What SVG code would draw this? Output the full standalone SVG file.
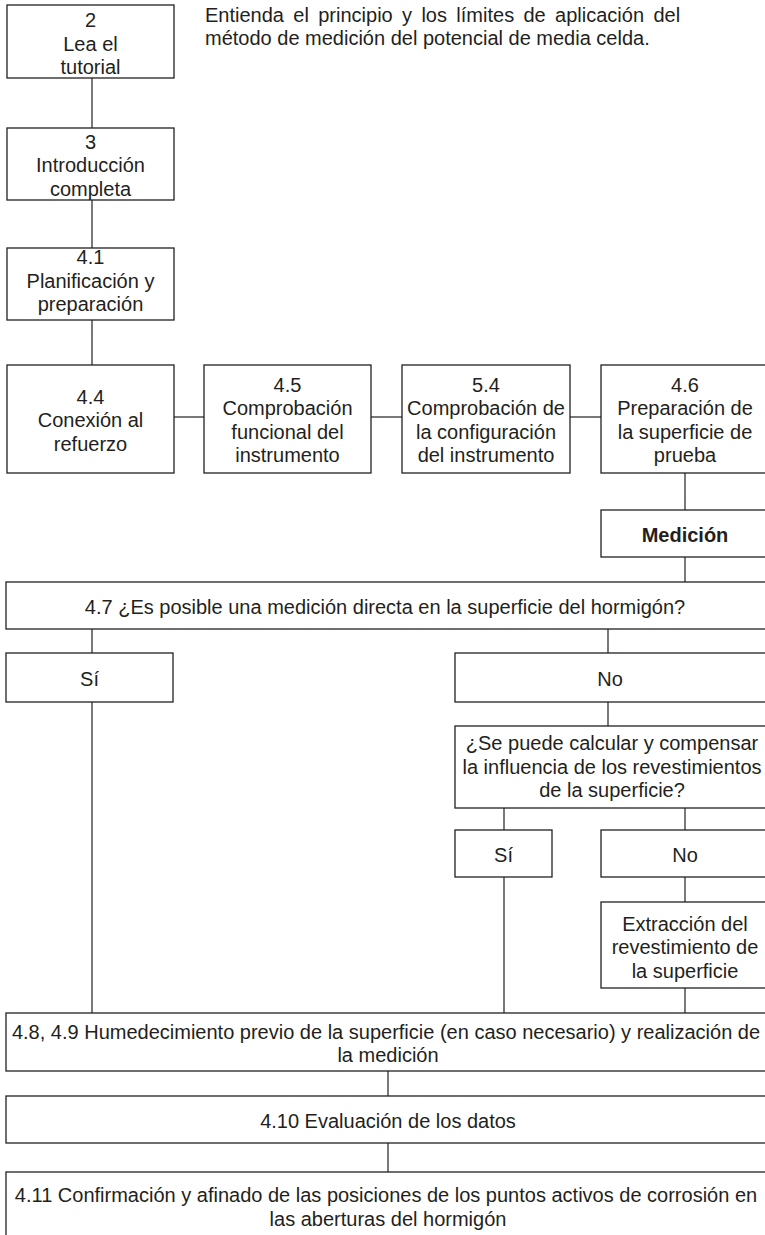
<svg xmlns="http://www.w3.org/2000/svg" width="765" height="1235" viewBox="0 0 765 1235">
<style>
.b{fill:#fff;stroke:#231f20;stroke-width:1.3}
.c{fill:none;stroke:#231f20;stroke-width:1.2}
text{font-family:"Liberation Sans",Arial,Helvetica,sans-serif;font-size:20px;fill:#231f20;text-anchor:middle}
.h{text-anchor:start;word-spacing:3.8px}
.h2{text-anchor:start}
.bold{font-weight:bold}
</style>
<rect width="765" height="1235" fill="#fff"/>
<g id="connectors">
<line class="c" x1="92" y1="78" x2="92" y2="128"/>
<line class="c" x1="92" y1="200" x2="92" y2="248"/>
<line class="c" x1="92" y1="320" x2="92" y2="365"/>
<line class="c" x1="174" y1="417" x2="204" y2="417"/>
<line class="c" x1="371" y1="417" x2="402" y2="417"/>
<line class="c" x1="570" y1="417" x2="601" y2="417"/>
<line class="c" x1="685" y1="473" x2="685" y2="510"/>
<line class="c" x1="685" y1="557" x2="685" y2="582"/>
<line class="c" x1="92" y1="629" x2="92" y2="653"/>
<line class="c" x1="608" y1="629" x2="608" y2="653"/>
<line class="c" x1="92" y1="702" x2="92" y2="1013"/>
<line class="c" x1="608" y1="702" x2="608" y2="726"/>
<line class="c" x1="504" y1="808" x2="504" y2="830"/>
<line class="c" x1="685" y1="808" x2="685" y2="830"/>
<line class="c" x1="504" y1="877" x2="504" y2="1013"/>
<line class="c" x1="685" y1="877" x2="685" y2="902"/>
<line class="c" x1="685" y1="988" x2="685" y2="1013"/>
<line class="c" x1="388" y1="1071" x2="388" y2="1096"/>
<line class="c" x1="388" y1="1143" x2="388" y2="1172"/>
</g>
<g id="note">
<text class="h" x="205" y="21.5">Entienda el principio y los límites de aplicación del</text>
<text class="h2" x="205" y="45">método de medición del potencial de media celda.</text>
</g>
<g id="n2">
<rect class="b" x="7" y="5" width="167" height="73"/>
<text x="90.5" y="27">2</text>
<text x="90.5" y="50.5">Lea el</text>
<text x="90.5" y="74">tutorial</text>
</g>
<g id="n3">
<rect class="b" x="7" y="128" width="167" height="72"/>
<text x="90.5" y="148.5">3</text>
<text x="90.5" y="172">Introducción</text>
<text x="90.5" y="195.5">completa</text>
</g>
<g id="n41">
<rect class="b" x="7" y="248" width="167" height="72"/>
<text x="90.5" y="264">4.1</text>
<text x="90.5" y="287.5">Planificación y</text>
<text x="90.5" y="311">preparación</text>
</g>
<g id="n44">
<rect class="b" x="7" y="365" width="167" height="108"/>
<text x="90.5" y="403.5">4.4</text>
<text x="90.5" y="427">Conexión al</text>
<text x="90.5" y="450.5">refuerzo</text>
</g>
<g id="n45">
<rect class="b" x="204" y="365" width="167" height="108"/>
<text x="287.5" y="391.75">4.5</text>
<text x="287.5" y="415.25">Comprobación</text>
<text x="287.5" y="438.75">funcional del</text>
<text x="287.5" y="462.25">instrumento</text>
</g>
<g id="n54">
<rect class="b" x="402" y="365" width="168" height="108"/>
<text x="486" y="391.75">5.4</text>
<text x="486" y="415.25">Comprobación de</text>
<text x="486" y="438.75">la configuración</text>
<text x="486" y="462.25">del instrumento</text>
</g>
<g id="n46">
<rect class="b" x="601" y="365" width="169" height="108"/>
<text x="685" y="391.75">4.6</text>
<text x="685" y="415.25">Preparación de</text>
<text x="685" y="438.75">la superficie de</text>
<text x="685" y="462.25">prueba</text>
</g>
<g id="medicion">
<rect class="b" x="601" y="510" width="169" height="47"/>
<text class="bold" x="685" y="541.5">Medición</text>
</g>
<g id="n47">
<rect class="b" x="6" y="582" width="764" height="47"/>
<text x="385" y="613.5">4.7 ¿Es posible una medición directa en la superficie del hormigón?</text>
</g>
<g id="si1">
<rect class="b" x="6" y="653" width="167" height="49"/>
<text x="89.5" y="685.5">Sí</text>
</g>
<g id="no1">
<rect class="b" x="455" y="653" width="315" height="49"/>
<text x="610" y="685.5">No</text>
</g>
<g id="question">
<rect class="b" x="455" y="726" width="315" height="82"/>
<text x="612" y="750">¿Se puede calcular y compensar</text>
<text x="612" y="773.5">la influencia de los revestimientos</text>
<text x="612" y="797">de la superficie?</text>
</g>
<g id="si2">
<rect class="b" x="455" y="830" width="97" height="47"/>
<text x="503.5" y="861.5">Sí</text>
</g>
<g id="no2">
<rect class="b" x="601" y="830" width="169" height="47"/>
<text x="685" y="861.5">No</text>
</g>
<g id="extraccion">
<rect class="b" x="601" y="902" width="169" height="86"/>
<text x="685" y="930.5">Extracción del</text>
<text x="685" y="954">revestimiento de</text>
<text x="685" y="977.5">la superficie</text>
</g>
<g id="n48">
<rect class="b" x="6" y="1013" width="764" height="58"/>
<text x="386" y="1038.5">4.8, 4.9 Humedecimiento previo de la superficie (en caso necesario) y realización de</text>
<text x="388" y="1062">la medición</text>
</g>
<g id="n410">
<rect class="b" x="6" y="1096" width="764" height="47"/>
<text x="388" y="1127.5">4.10 Evaluación de los datos</text>
</g>
<g id="n411">
<rect class="b" x="6" y="1172" width="764" height="70"/>
<text x="386" y="1202">4.11 Confirmación y afinado de las posiciones de los puntos activos de corrosión en</text>
<text x="388" y="1225.5">las aberturas del hormigón</text>
</g>
</svg>
